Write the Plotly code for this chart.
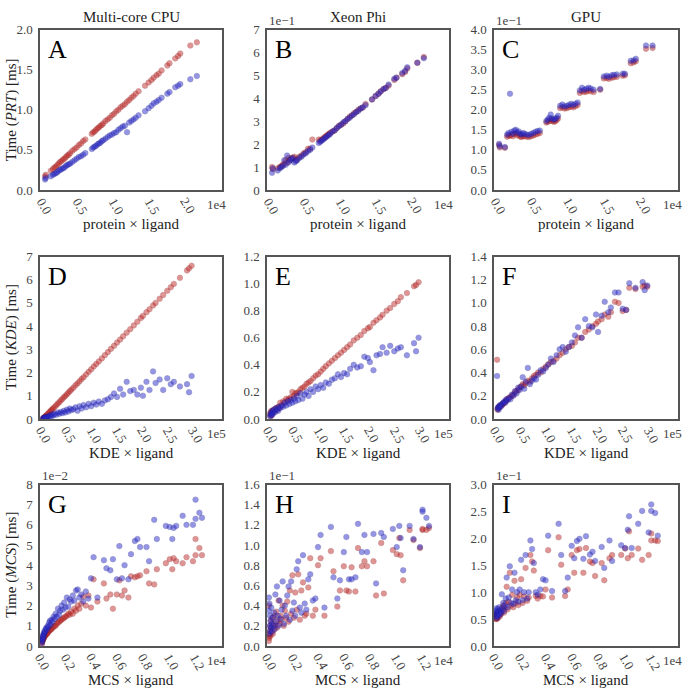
import plotly.graph_objects as go

W, H = 684, 698
FONT = "Liberation Serif, Times New Roman, serif"

col_titles = ["Multi-core CPU", "Xeon Phi", "GPU"]
row_xtitles = ["protein × ligand", "KDE × ligand", "MCS × ligand"]
row_ytitles = ["Time (<i>PRT</i>) [ms]", "Time (<i>KDE</i>) [ms]", "Time (<i>MCS</i>) [ms]"]
panel_letters = ["A", "B", "C", "D", "E", "F", "G", "H", "I"]
x_exponents = ["1e4", "1e5", "1e4"]
y_exponents = [None, "1e\u22121", "1e\u22121", None, None, None, "1e\u22122", "1e\u22121", "1e\u22121"]

# ---------- row 1: protein x ligand (units 1e4) ----------
prt_x_e4 = [0.02, 0.03, 0.10,
            0.13, 0.15, 0.17, 0.19, 0.21, 0.23, 0.25, 0.27, 0.29, 0.31, 0.33, 0.35, 0.37, 0.40, 0.43, 0.46, 0.49, 0.52, 0.55, 0.58,
            0.67, 0.69, 0.71, 0.73, 0.75, 0.77, 0.79, 0.81, 0.83,
            0.86, 0.89, 0.92, 0.95, 0.98, 1.01, 1.04, 1.07, 1.10,
            1.13, 1.16, 1.19, 1.22, 1.25, 1.28, 1.32, 1.41,
            1.46, 1.50, 1.53, 1.57, 1.60, 1.64, 1.72, 1.75,
            1.83, 1.87, 1.90,
            2.04, 2.13]
cpu_prt_red = [0.17, 0.19, 0.24,
               0.26, 0.28, 0.29, 0.31, 0.33, 0.35, 0.36, 0.38, 0.39, 0.41, 0.43, 0.44, 0.46, 0.49, 0.51, 0.53, 0.56, 0.58, 0.61, 0.63,
               0.70, 0.72, 0.73, 0.75, 0.77, 0.78, 0.80, 0.81, 0.83,
               0.86, 0.88, 0.90, 0.93, 0.95, 0.98, 1.00, 1.03, 1.05,
               1.07, 1.10, 1.12, 1.15, 1.17, 1.20, 1.23, 1.30,
               1.34, 1.37, 1.40, 1.43, 1.45, 1.49, 1.55, 1.58,
               1.64, 1.67, 1.70,
               1.80, 1.84]
cpu_prt_blue = [0.13, 0.15, 0.17,
                0.19, 0.20, 0.21, 0.22, 0.24, 0.25, 0.26, 0.27, 0.28, 0.30, 0.31, 0.32, 0.33, 0.35, 0.37, 0.39, 0.41, 0.42, 0.44, 0.46,
                0.51, 0.53, 0.54, 0.55, 0.57, 0.58, 0.59, 0.61, 0.62,
                0.64, 0.66, 0.68, 0.69, 0.71, 0.72, 0.75, 0.77, 0.79,
                0.80, 0.72, 0.84, 0.86, 0.88, 0.90, 0.93, 0.98,
                1.02, 1.05, 1.08, 1.10, 1.12, 1.15, 1.20, 1.22,
                1.28, 1.30, 1.32,
                1.38, 1.42]
phi_prt_red_e1 = [1.00, 0.90, 0.95,
                  1.00, 1.05, 1.10, 1.15, 1.30, 1.20, 1.40, 1.30, 1.40, 1.40, 1.45, 1.30, 1.35, 1.45, 1.50, 1.60, 1.65, 1.80, 1.80, 2.20,
                  2.20, 2.15, 2.20, 2.25, 2.30, 2.35, 2.40, 2.45, 2.50,
                  2.55, 2.60, 2.70, 2.80, 2.85, 2.90, 3.00, 3.10, 3.20,
                  3.25, 3.35, 3.40, 3.50, 3.55, 3.60, 3.75, 3.95,
                  4.10, 4.20, 4.30, 4.40, 4.45, 4.55, 4.80, 4.90,
                  5.05, 5.15, 5.30,
                  5.55, 5.80]
phi_prt_blue_e1 = [0.75, 0.95, 0.85,
                   0.95, 1.00, 1.05, 1.30, 1.10, 1.50, 1.20, 1.30, 1.35, 1.40, 1.20, 1.25, 1.30, 1.40, 1.45, 1.55, 1.60, 1.70, 1.75, 1.85,
                   2.05, 2.10, 2.15, 2.20, 2.25, 2.30, 2.35, 2.40, 2.45,
                   2.55, 2.60, 2.70, 2.78, 2.85, 2.95, 3.00, 3.10, 3.15,
                   3.25, 3.30, 3.40, 3.45, 3.55, 3.60, 3.70, 3.95,
                   4.10, 4.20, 4.30, 4.40, 4.45, 4.60, 4.85, 4.90,
                   5.10, 5.20, 5.35,
                   5.55, 5.75]
gpu_prt_red_e1 = [1.12, 1.06, 1.05,
                  1.33, 1.36, 1.35, 1.38, 1.34, 1.40, 1.42, 1.36, 1.38, 1.33, 1.32, 1.35, 1.34, 1.33, 1.32, 1.34, 1.36, 1.38, 1.40, 1.42,
                  1.68, 1.70, 1.72, 1.76, 1.72, 1.70, 1.71, 1.74, 1.78,
                  2.04, 2.06, 2.03, 2.04, 2.06, 2.08, 2.06, 2.09, 2.12,
                  2.42, 2.47, 2.44, 2.45, 2.48, 2.46, 2.44, 2.50,
                  2.78, 2.79, 2.77, 2.80, 2.81, 2.82, 2.85, 2.86,
                  3.16, 3.18, 3.21,
                  3.52, 3.54]
gpu_prt_blue_e1 = [1.15, 1.09, 1.07,
                   1.38, 1.42, 2.40, 1.45, 1.40, 1.48, 1.50, 1.43, 1.46, 1.40, 1.38, 1.42, 1.40, 1.38, 1.37, 1.40, 1.42, 1.45, 1.47, 1.48,
                   1.72, 1.76, 1.80, 1.88, 1.78, 1.75, 1.77, 1.80, 1.85,
                   2.10, 2.13, 2.08, 2.10, 2.12, 2.15, 2.12, 2.15, 2.18,
                   2.48, 2.55, 2.50, 2.52, 2.55, 2.53, 2.50, 2.52,
                   2.83, 2.85, 2.82, 2.86, 2.87, 2.88, 2.90, 2.90,
                   3.22, 3.23, 3.27,
                   3.60, 3.60]

# ---------- row 2: KDE x ligand (units 1e5) ----------
kde_x_e5 = [0.00, 0.01, 0.02, 0.03, 0.04, 0.05, 0.06, 0.08, 0.10, 0.12,
            0.14, 0.16, 0.18, 0.20, 0.23, 0.26, 0.29, 0.32, 0.35, 0.38,
            0.41, 0.44, 0.47, 0.50, 0.53, 0.56, 0.60, 0.64, 0.68, 0.72,
            0.76, 0.80, 0.85, 0.90, 0.95, 1.00, 1.05, 1.10, 1.16, 1.22,
            1.28, 1.34, 1.40, 1.46, 1.52, 1.58, 1.65, 1.72, 1.79, 1.86,
            1.93, 1.97, 2.04, 2.10, 2.17, 2.22, 2.30, 2.37, 2.45, 2.52,
            2.58, 2.70, 2.84, 2.88, 2.93]
cpu_kde_red = [0.02, 0.04, 0.05, 0.08, 0.10, 0.12, 0.14, 0.19, 0.23, 0.28,
               0.32, 0.37, 0.41, 0.46, 0.52, 0.59, 0.66, 0.72, 0.80, 0.86,
               0.93, 0.99, 1.06, 1.13, 1.20, 1.27, 1.35, 1.45, 1.53, 1.62,
               1.72, 1.80, 1.92, 2.03, 2.14, 2.26, 2.37, 2.48, 2.61, 2.75,
               2.88, 3.02, 3.15, 3.29, 3.42, 3.56, 3.72, 3.87, 4.03, 4.19,
               4.35, 4.44, 4.60, 4.73, 4.89, 5.00, 5.18, 5.34, 5.52, 5.68,
               5.82, 6.08, 6.40, 6.49, 6.60]
cpu_kde_blue = [0.02, 0.03, 0.05, 0.04, 0.06, 0.05, 0.08, 0.07, 0.10, 0.12,
                0.15, 0.10, 0.20, 0.15, 0.22, 0.18, 0.28, 0.22, 0.30, 0.25,
                0.35, 0.28, 0.40, 0.32, 0.45, 0.38, 0.42, 0.50, 0.35, 0.55,
                0.45, 0.60, 0.50, 0.65, 0.55, 0.70, 0.62, 0.75, 0.65, 0.80,
                0.85, 0.95, 1.10, 0.95, 1.30, 1.05, 1.60, 1.20, 1.25, 1.05,
                1.35, 1.00, 1.60, 1.25, 2.05, 1.55, 1.70, 1.25, 1.75, 1.50,
                1.60, 1.40, 1.50, 1.15, 1.85]
phi_kde_red = [0.03, 0.05, 0.02, 0.06, 0.04, 0.06, 0.05, 0.07, 0.06, 0.08,
               0.07, 0.09, 0.08, 0.12, 0.10, 0.13, 0.12, 0.15, 0.14, 0.15,
               0.16, 0.20, 0.17, 0.19, 0.19, 0.20, 0.22, 0.23, 0.24, 0.26,
               0.27, 0.28, 0.30, 0.32, 0.33, 0.35, 0.37, 0.39, 0.41, 0.43,
               0.45, 0.47, 0.49, 0.51, 0.53, 0.55, 0.58, 0.60, 0.62, 0.65,
               0.67, 0.68, 0.71, 0.73, 0.75, 0.77, 0.80, 0.82, 0.85, 0.87,
               0.90, 0.93, 0.98, 0.99, 1.01]
phi_kde_blue = [0.02, 0.04, 0.03, 0.05, 0.03, 0.06, 0.04, 0.07, 0.05, 0.08,
                0.07, 0.06, 0.09, 0.08, 0.10, 0.09, 0.12, 0.10, 0.13, 0.11,
                0.14, 0.12, 0.15, 0.13, 0.17, 0.14, 0.19, 0.15, 0.18, 0.20,
                0.17, 0.22, 0.20, 0.24, 0.22, 0.25, 0.23, 0.27, 0.26, 0.29,
                0.30, 0.33, 0.31, 0.34, 0.33, 0.37, 0.40, 0.38, 0.39, 0.46,
                0.45, 0.42, 0.36, 0.47, 0.48, 0.53, 0.49, 0.54, 0.50, 0.52,
                0.53, 0.47, 0.56, 0.50, 0.60]
gpu_kde_red = [0.51, 0.08, 0.09, 0.10, 0.10, 0.11, 0.11, 0.12, 0.12, 0.13,
               0.14, 0.15, 0.16, 0.17, 0.18, 0.19, 0.20, 0.21, 0.23, 0.24,
               0.25, 0.27, 0.28, 0.30, 0.29, 0.31, 0.33, 0.32, 0.35, 0.37,
               0.38, 0.40, 0.40, 0.43, 0.45, 0.47, 0.49, 0.50, 0.52, 0.55,
               0.57, 0.60, 0.62, 0.63, 0.66, 0.70, 0.70, 0.75, 0.77, 0.80,
               0.82, 0.84, 0.86, 0.90, 0.88, 0.92, 1.01, 1.00, 0.93, 0.94,
               1.13, 1.12, 1.14, 1.15, 1.14]
gpu_kde_blue = [0.37, 0.09, 0.10, 0.08, 0.11, 0.10, 0.12, 0.11, 0.13, 0.14,
                0.15, 0.14, 0.17, 0.16, 0.18, 0.17, 0.21, 0.20, 0.24, 0.22,
                0.27, 0.25, 0.28, 0.36, 0.26, 0.32, 0.44, 0.30, 0.33, 0.35,
                0.34, 0.38, 0.42, 0.41, 0.44, 0.47, 0.52, 0.49, 0.55, 0.60,
                0.62, 0.58, 0.62, 0.66, 0.72, 0.79, 0.70, 0.86, 0.80, 0.79,
                0.90, 0.75, 0.89, 1.01, 0.92, 0.96, 1.09, 1.09, 0.95, 0.94,
                1.17, 1.13, 1.18, 1.11, 1.15]

# ---------- row 3: MCS x ligand (units 1e4) ----------
mcs_x_e4 = [0.000, 0.000, 0.002, 0.004, 0.006, 0.008, 0.010, 0.012, 0.015, 0.018,
            0.021, 0.025, 0.030, 0.035, 0.040, 0.045, 0.050, 0.056, 0.062, 0.068,
            0.075, 0.082, 0.090, 0.098, 0.106, 0.115, 0.124, 0.133, 0.142, 0.152,
            0.162, 0.172, 0.182, 0.193, 0.204, 0.215, 0.227, 0.239, 0.251, 0.264,
            0.277, 0.290, 0.305, 0.320, 0.340, 0.360, 0.380, 0.400, 0.430, 0.480,
            0.500, 0.530, 0.550, 0.580, 0.600, 0.620, 0.640, 0.670, 0.690, 0.720,
            0.740, 0.760, 0.810, 0.830, 0.870, 0.890, 0.960, 0.990, 1.010, 1.020,
            1.040, 1.090, 1.120, 1.170, 1.190, 1.190, 1.220, 1.240]
cpu_mcs_red_e2 = [0.10, 0.20, 0.20, 0.25, 0.30, 0.30, 0.35, 0.40, 0.40, 0.45,
                  0.50, 0.50, 0.55, 0.60, 0.60, 0.65, 0.70, 0.75, 0.80, 0.80,
                  0.85, 0.90, 0.95, 1.00, 1.00, 1.10, 1.15, 1.20, 1.25, 1.30,
                  1.35, 1.40, 1.45, 1.50, 1.60, 1.55, 1.70, 1.60, 1.85, 1.75,
                  2.00, 1.85, 2.10, 2.45, 2.00, 2.50, 1.90, 3.30, 2.20, 3.10,
                  2.35, 2.55, 1.85, 2.55, 3.25, 2.50, 2.75, 2.40, 3.45, 3.40,
                  3.45, 3.50, 3.70, 3.10, 3.05, 3.80, 4.10, 4.30, 3.80, 4.35,
                  4.20, 4.10, 4.40, 4.20, 5.30, 4.50, 4.85, 4.50]
cpu_mcs_blue_e2 = [0.15, 0.30, 0.25, 0.40, 0.35, 0.50, 0.55, 0.45, 0.65, 0.60,
                   0.75, 0.70, 0.85, 0.90, 0.80, 1.00, 0.95, 1.15, 1.25, 1.05,
                   1.30, 1.20, 1.45, 1.35, 1.60, 1.45, 1.85, 1.55, 1.75, 2.00,
                   1.80, 2.15, 1.90, 2.40, 1.95, 2.30, 2.20, 2.50, 2.25, 2.75,
                   2.80, 2.40, 2.55, 2.20, 2.70, 2.35, 3.35, 4.40, 2.40, 4.25,
                   3.85, 3.75, 4.30, 3.30, 4.95, 3.35, 4.00, 3.30, 4.55, 5.20,
                   5.30, 4.90, 4.90, 4.20, 6.25, 5.30, 5.95, 5.90, 5.30, 5.85,
                   5.95, 6.45, 6.00, 6.00, 7.25, 6.30, 6.60, 6.35]
phi_mcs_red_e1 = [0.05, 0.40, 0.08, 0.10, 0.15, 0.12, 0.20, 0.10, 0.25, 0.14,
                  0.18, 0.28, 0.12, 0.22, 0.16, 0.30, 0.20, 0.34, 0.18, 0.25,
                  0.45, 0.22, 0.30, 0.26, 0.40, 0.20, 0.35, 0.28, 0.44, 0.24,
                  0.55, 0.32, 0.70, 0.28, 0.53, 0.36, 0.71, 0.26, 0.55, 0.63,
                  0.30, 0.32, 0.58, 0.87, 0.30, 0.36, 0.80, 0.87, 0.30, 0.94,
                  0.74, 0.39, 0.55, 0.79, 0.55, 0.54, 0.78, 0.54, 0.97, 0.79,
                  0.84, 0.79, 0.84, 0.50, 1.02, 0.52, 0.95, 0.91, 1.07, 0.90,
                  0.65, 1.15, 1.05, 0.97, 1.15, 1.16, 1.15, 1.17]
phi_mcs_blue_e1 = [0.48, 0.35, 0.12, 0.42, 0.20, 0.30, 0.15, 0.25, 0.18, 0.38,
                   0.22, 0.14, 0.28, 0.20, 0.33, 0.17, 0.51, 0.24, 0.59, 0.30,
                   0.20, 0.45, 0.27, 0.36, 0.64, 0.22, 0.40, 0.30, 0.50, 0.59,
                   0.26, 0.64, 0.35, 0.43, 0.30, 0.76, 0.84, 0.38, 0.33, 0.90,
                   0.42, 0.36, 0.66, 0.71, 0.45, 0.47, 0.98, 1.10, 0.38, 1.18,
                   0.68, 0.47, 0.65, 0.93, 1.08, 0.66, 0.66, 0.68, 1.21, 0.93,
                   1.10, 0.93, 1.11, 0.62, 1.12, 1.08, 1.16, 0.98, 1.19, 1.07,
                   0.75, 1.19, 1.06, 0.98, 1.35, 1.33, 1.27, 1.19]
gpu_mcs_red_e1 = [0.50, 0.55, 0.52, 0.60, 0.50, 0.58, 0.55, 0.62, 0.52, 0.60,
                  0.57, 0.65, 0.55, 0.62, 0.60, 0.70, 0.66, 0.75, 0.62, 0.70,
                  0.80, 1.10, 0.68, 0.82, 1.36, 0.75, 0.95, 0.72, 1.21, 0.80,
                  0.90, 0.76, 0.95, 1.24, 0.80, 0.92, 1.45, 0.84, 0.90, 1.69,
                  1.57, 1.40, 0.93, 0.88, 0.93, 0.92, 1.05, 1.78, 0.90, 2.02,
                  1.51, 0.93, 1.05, 1.69, 1.36, 1.78, 1.80, 1.36, 1.82, 1.57,
                  1.54, 1.30, 1.54, 1.22, 1.63, 1.69, 1.69, 1.81, 1.63, 2.13,
                  1.69, 1.81, 1.60, 1.69, 2.09, 1.96, 1.96, 1.95]
gpu_mcs_blue_e1 = [0.55, 0.65, 0.60, 0.70, 0.52, 0.62, 0.58, 0.68, 0.55, 0.64,
                   0.60, 0.72, 0.58, 0.66, 0.62, 0.96, 0.70, 0.80, 0.65, 0.75,
                   0.88, 1.27, 0.72, 0.90, 1.48, 0.80, 1.05, 0.78, 1.36, 0.85,
                   1.00, 0.82, 1.05, 1.60, 0.85, 1.00, 1.69, 0.88, 1.00, 1.96,
                   1.80, 1.54, 1.00, 0.95, 1.05, 1.24, 1.22, 2.05, 1.02, 2.27,
                   1.69, 1.02, 1.27, 1.86, 1.63, 1.95, 1.99, 1.62, 2.04, 1.70,
                   1.75, 1.58, 1.84, 1.45, 1.96, 1.58, 1.87, 1.82, 2.16, 2.41,
                   1.82, 2.27, 2.51, 2.11, 2.63, 2.51, 2.47, 2.05]

row_x = [prt_x_e4, kde_x_e5, mcs_x_e4]
panel_series = [
    (cpu_prt_red, cpu_prt_blue), (phi_prt_red_e1, phi_prt_blue_e1), (gpu_prt_red_e1, gpu_prt_blue_e1),
    (cpu_kde_red, cpu_kde_blue), (phi_kde_red, phi_kde_blue), (gpu_kde_red, gpu_kde_blue),
    (cpu_mcs_red_e2, cpu_mcs_blue_e2), (phi_mcs_red_e1, phi_mcs_blue_e1), (gpu_mcs_red_e1, gpu_mcs_blue_e1),
]
y_ranges = [[0, 2], [0, 7], [0, 4], [0, 7], [0, 1.2], [0, 1.4], [0, 8], [0, 1.6], [0, 3]]
y_dticks = [0.5, 1, 0.5, 1, 0.2, 0.2, 1, 0.2, 0.5]
y_formats = [".1f", "d", ".1f", "d", ".1f", ".1f", "d", ".1f", ".1f"]
x_ranges = [[-0.05, 2.48], [-0.06, 3.53], [-0.015, 1.395]]
x_ticks = [[0, 0.5, 1.0, 1.5, 2.0], [0, 0.5, 1.0, 1.5, 2.0, 2.5, 3.0], [0, 0.2, 0.4, 0.6, 0.8, 1.0, 1.2]]

# layout geometry in pixels
col_px = [(40, 222), (267, 449), (494, 678)]
row_px = [(23, 187), (255, 421), (488, 653)]

RED = dict(size=5.5, color="rgb(195,45,45)", opacity=0.5, line=dict(width=0.6, color="rgb(140,20,20)"))
BLUE = dict(size=5.5, color="rgb(45,45,205)", opacity=0.5, line=dict(width=0.6, color="rgb(20,20,140)"))
TICKFONT = dict(family=FONT, size=13, color="#444444")
TITLEFONT = dict(family=FONT, size=15, color="#222222")

fig = go.Figure()
annotations = []
layout_axes = {}

for r in range(3):
    for c in range(3):
        i = r * 3 + c + 1
        sfx = "" if i == 1 else str(i)
        xdom = [col_px[c][0] / W, col_px[c][1] / W]
        ydom = [1 - row_px[r][1] / H, 1 - row_px[r][0] / H]
        red, blue = panel_series[i - 1]
        xs = row_x[r]
        fig.add_trace(go.Scatter(x=xs, y=red, mode="markers", marker=RED,
                                 xaxis="x" + sfx, yaxis="y" + sfx, showlegend=False, hoverinfo="skip"))
        fig.add_trace(go.Scatter(x=xs, y=blue, mode="markers", marker=BLUE,
                                 xaxis="x" + sfx, yaxis="y" + sfx, showlegend=False, hoverinfo="skip"))
        layout_axes["xaxis" + sfx] = dict(domain=xdom, range=x_ranges[r], anchor="y" + sfx,
                                          showticklabels=False, showgrid=False, zeroline=False,
                                          showline=True, mirror=True, linecolor="#555555", linewidth=1.5,
                                          ticks="")
        layout_axes["yaxis" + sfx] = dict(domain=ydom, range=y_ranges[i - 1], anchor="x" + sfx,
                                          tick0=0, dtick=y_dticks[i - 1], tickformat=y_formats[i - 1],
                                          showgrid=False, zeroline=False, showline=True, mirror=True,
                                          linecolor="#555555", linewidth=1.5, ticks="outside", ticklen=3,
                                          tickcolor="rgba(0,0,0,0)", tickfont=TICKFONT)
        # rotated x tick labels
        for v in x_ticks[r]:
            annotations.append(dict(x=v, xref="x" + sfx, y=ydom[0], yref="paper", yshift=-16,
                                    text=f"{v:.1f}", textangle=60, showarrow=False,
                                    xanchor="center", yanchor="middle", font=TICKFONT))
        # x offset label
        annotations.append(dict(x=xdom[1], xref="paper", y=ydom[0], yref="paper", xshift=-17, yshift=-15,
                                text=x_exponents[r], showarrow=False, xanchor="left", yanchor="middle",
                                font=TICKFONT))
        # y offset label
        if y_exponents[i - 1]:
            annotations.append(dict(x=xdom[0], xref="paper", y=ydom[1], yref="paper", yshift=0,
                                    text=y_exponents[i - 1], showarrow=False, xanchor="left",
                                    yanchor="bottom", font=TICKFONT))
        # panel letter
        annotations.append(dict(x=xdom[0], xref="paper", y=ydom[1], yref="paper", xshift=6, yshift=-3,
                                text=panel_letters[i - 1], showarrow=False, xanchor="left", yanchor="top",
                                font=dict(family=FONT, size=26, color="black")))
        # x title
        annotations.append(dict(x=(xdom[0] + xdom[1]) / 2, xref="paper", y=ydom[0], yref="paper",
                                yshift=-34, text=row_xtitles[r], showarrow=False,
                                xanchor="center", yanchor="middle", font=TITLEFONT))
        if r == 0:
            annotations.append(dict(x=(xdom[0] + xdom[1]) / 2, xref="paper", y=ydom[1], yref="paper",
                                    yshift=3, text=col_titles[c], showarrow=False,
                                    xanchor="center", yanchor="bottom", font=TITLEFONT))
        if c == 0:
            annotations.append(dict(x=1 / W, xref="paper", y=(ydom[0] + ydom[1]) / 2, yref="paper",
                                    text=row_ytitles[r], textangle=-90, showarrow=False,
                                    xanchor="left", yanchor="middle", font=TITLEFONT))

fig.update_layout(width=W, height=H, margin=dict(l=0, r=0, t=0, b=0),
                  paper_bgcolor="white", plot_bgcolor="white",
                  annotations=annotations, **layout_axes)
fig.write_html("out.html")
